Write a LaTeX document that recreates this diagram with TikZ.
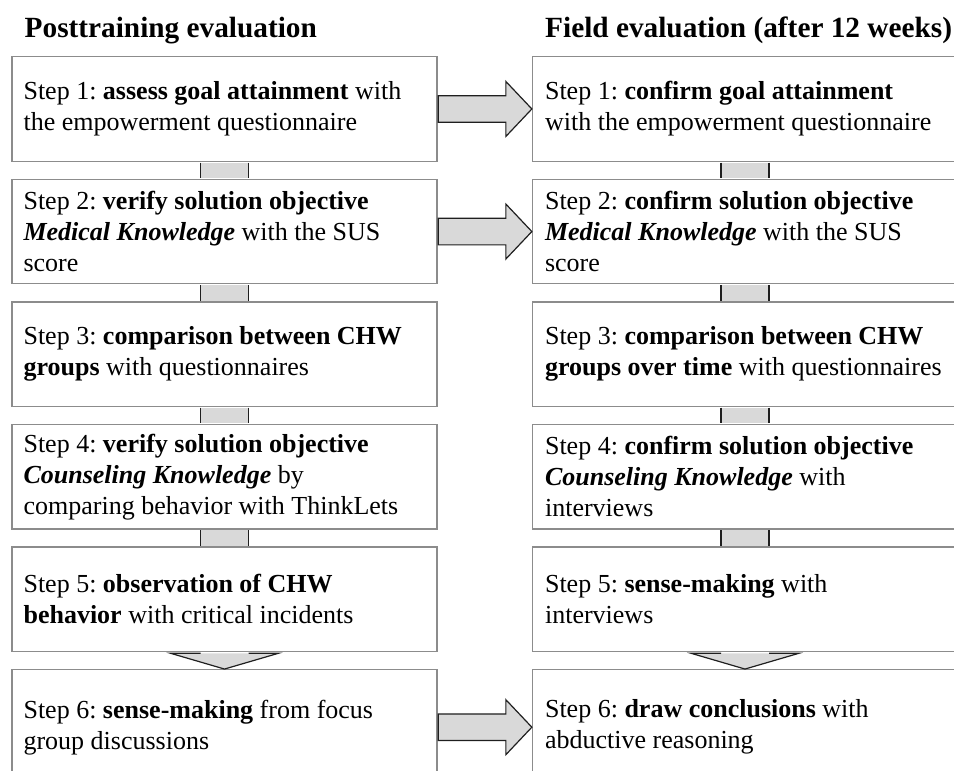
\documentclass[tikz,border=0pt]{standalone}
\usepackage{fontspec}
\setmainfont{Liberation Serif}
\usetikzlibrary{calc}
\definecolor{boxline}{gray}{0.55}
\definecolor{arrfill}{gray}{0.85}
\definecolor{arrline}{gray}{0.12}
\tikzset{
  stepbox/.style={draw=boxline, line width=1.3pt, fill=white, rectangle,
    minimum width=425pt, minimum height=104.5pt, inner sep=0pt},
  lastbox/.style={stepbox, minimum height=115pt},
  steptext/.style={anchor=west, inner sep=0pt, align=left,
    font=\fontsize{26}{31}\selectfont\frenchspacing},
  titletext/.style={inner sep=0pt, anchor=base west, font=\fontsize{29.3}{34}\selectfont\bfseries},
  arrowedge/.style={draw=arrline, line width=1.2pt, line join=miter},
}
\begin{document}
\begin{tikzpicture}[x=1pt, y=-1pt]
\useasboundingbox (0,0) rectangle (954,771);
\clip (0,0) rectangle (954,771);

% titles
\node[titletext] (tl) at (24.5,37.5) {Posttraining evaluation};
\node[titletext] (tr) at (545,37.5) {Field evaluation (after 12 weeks)};

% boxes
\foreach \i/\y in {1/108.95,2/231.55,3/354.15,4/476.75,5/599.35} {
  \node[stepbox] (L\i) at (224.5,\y) {};
  \node[stepbox] (R\i) at (745,\y) {};
}
\node[lastbox] (L6) at (224.5,727.2) {};
\node[lastbox] (R6) at (745,727.2) {};

% left column texts
\node[steptext] (L1t) at ($(L1.west)+(12,0)$) {Step 1: \textbf{assess goal attainment} with\\the empowerment questionnaire};
\node[steptext] (L2t) at ($(L2.west)+(12,0)$) {Step 2: \textbf{verify solution objective}\\\textbf{\textit{Medical Knowledge}} with the SUS\\score};
\node[steptext] (L3t) at ($(L3.west)+(12,0)$) {Step 3: \textbf{comparison between CHW}\\\textbf{groups} with questionnaires};
\node[steptext] (L4t) at ($(L4.west)+(12,0)$) {Step 4: \textbf{verify solution objective}\\\textbf{\textit{Counseling Knowledge}} by\\comparing behavior with ThinkLets};
\node[steptext] (L5t) at ($(L5.west)+(12,0)$) {Step 5: \textbf{observation of CHW}\\\textbf{behavior} with critical incidents};
\node[steptext] (L6t) at ($(L6.west)+(12,0)$) {Step 6: \textbf{sense-making} from focus\\group discussions};

% right column texts
\node[steptext] (R1t) at ($(R1.west)+(13,0)$) {Step 1: \textbf{confirm goal attainment}\\with the empowerment questionnaire};
\node[steptext] (R2t) at ($(R2.west)+(13,0)$) {Step 2: \textbf{confirm solution objective}\\\textbf{\textit{Medical Knowledge}} with the SUS\\score};
\node[steptext] (R3t) at ($(R3.west)+(13,0)$) {Step 3: \textbf{comparison between CHW}\\\textbf{groups over time} with questionnaires};
\node[steptext] (R4t) at ($(R4.west)+(13,0)$) {Step 4: \textbf{confirm solution objective}\\\textbf{\textit{Counseling Knowledge}} with\\interviews};
\node[steptext] (R5t) at ($(R5.west)+(13,0)$) {Step 5: \textbf{sense-making} with\\interviews};
\node[steptext] (R6t) at ($(R6.west)+(13,0)$) {Step 6: \textbf{draw conclusions} with\\abductive reasoning};

% vertical connectors
\foreach \s in {L,R} {
  \foreach \a/\b in {1/2,2/3,3/4,4/5} {
    \fill[arrfill] ($(\s\a.south)+(-24,0.65)$) rectangle ($(\s\b.north)+(24,-0.65)$);
    \draw[arrowedge] ($(\s\a.south)+(-24,0.65)$) -- ($(\s\b.north)+(-24,-0.65)$);
    \draw[arrowedge] ($(\s\a.south)+(24,0.65)$) -- ($(\s\b.north)+(24,-0.65)$);
  }
  % down arrow head between step 5 and step 6
  \fill[arrfill] ($(\s5.south)+(-54,1)$) -- ($(\s5.south)+(54,1)$) -- (\s6.north) -- cycle;
  \draw[arrowedge] ($(\s5.south)+(-24,1)$) -- ($(\s5.south)+(-54,1)$) -- (\s6.north)
    -- ($(\s5.south)+(54,1)$) -- ($(\s5.south)+(24,1)$);
}

% horizontal block arrows
\foreach \r in {1,2,6} {
  \filldraw[arrowedge, fill=arrfill]
    ($(L\r.east)+(0.65,-13.3)$) -- ($(R\r.west)+(-26,-13.3)$) -- ($(R\r.west)+(-26,-27.5)$)
    -- (R\r.west) -- ($(R\r.west)+(-26,27.5)$) -- ($(R\r.west)+(-26,13.3)$)
    -- ($(L\r.east)+(0.65,13.3)$) -- cycle;
}
\end{tikzpicture}
\end{document}
